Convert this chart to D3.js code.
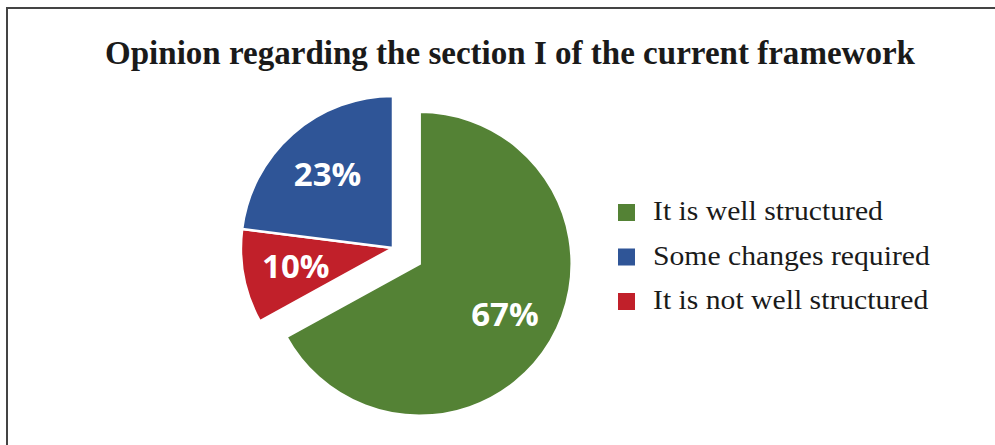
<!DOCTYPE html>
<html>
<head>
<meta charset="utf-8">
<script src="https://cdn.jsdelivr.net/npm/d3@7"></script>
<style>
  html, body { margin: 0; padding: 0; background: #fff; }
  svg { display: block; }
</style>
</head>
<body>
<svg id="chart" width="995" height="445"></svg>
<script>
// Survey answers, in drawing order (clockwise from 12 o'clock)
const categories = ["It is well structured", "Some changes required", "It is not well structured"];
const shares = [67, 23, 10];
const sliceOrder = [0, 2, 1];            // well structured, not well structured, changes required
const colors = ["#548235", "#2F5597", "#C1202A"];
const exploded = [true, false, false];
const title = "Opinion regarding the section I of the current framework";

const svg = d3.select("#chart");

// outer frame
svg.append("rect")
  .attr("x", 7).attr("y", 8)
  .attr("width", 1100).attr("height", 600)
  .attr("fill", "none")
  .attr("stroke", "#444")
  .attr("stroke-width", 2);

svg.append("text")
  .attr("x", 510).attr("y", 64)
  .attr("text-anchor", "middle")
  .attr("font-family", "'Liberation Serif', 'Times New Roman', serif")
  .attr("font-weight", "bold")
  .attr("font-size", 34)
  .attr("textLength", 810)
  .attr("lengthAdjust", "spacingAndGlyphs")
  .attr("fill", "#1a1a1a")
  .text(title);

const cx = 393, cy = 248, R = 152, explode = 31, labelR = 99;

const pie = d3.pie()
  .sort(null)
  .value(i => shares[i]);
const arcs = pie(sliceOrder);

const arc = d3.arc().innerRadius(0).outerRadius(R);
const labelArc = d3.arc().innerRadius(labelR).outerRadius(labelR);

const g = svg.append("g").attr("transform", `translate(${cx},${cy})`);

const slice = g.selectAll("g.slice")
  .data(arcs)
  .join("g")
  .attr("class", "slice")
  .attr("transform", d => {
    if (!exploded[d.data]) return null;
    const mid = (d.startAngle + d.endAngle) / 2;
    return `translate(${explode * Math.sin(mid)},${-explode * Math.cos(mid)})`;
  });

slice.append("path")
  .attr("d", arc)
  .attr("fill", d => colors[d.data])
  .attr("stroke", "#fff")
  .attr("stroke-width", 2.5)
  .attr("stroke-linejoin", "miter");

slice.append("text")
  .attr("transform", d => `translate(${labelArc.centroid(d)})`)
  .attr("text-anchor", "middle")
  .attr("dy", "0.36em")
  .attr("font-family", "'Open Sans', 'Noto Sans', sans-serif")
  .attr("font-weight", "bold")
  .attr("font-size", 33)
  .attr("fill", "#fff")
  .text(d => shares[d.data] + "%");

// legend
const legend = svg.append("g").attr("transform", "translate(618,204)");
const row = legend.selectAll("g")
  .data(categories.map((c, i) => i))
  .join("g")
  .attr("transform", i => `translate(0,${i * 44.5})`);

row.append("rect")
  .attr("width", 17).attr("height", 17)
  .attr("fill", i => colors[i]);

row.append("text")
  .attr("transform", "translate(35,16) scale(1.06,1)")
  .attr("font-family", "'Liberation Serif', 'Times New Roman', serif")
  .attr("font-size", 28)
  .attr("fill", "#1a1a1a")
  .text(i => categories[i]);
</script>
</body>
</html>
